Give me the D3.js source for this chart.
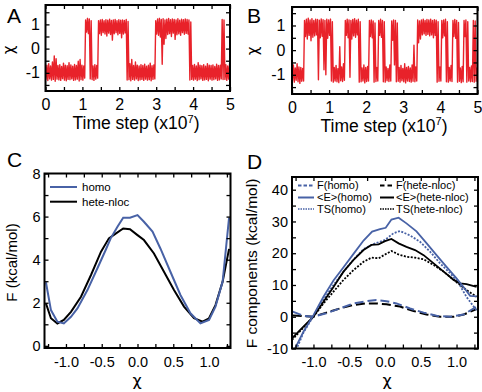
<!DOCTYPE html>
<html>
<head>
<meta charset="utf-8">
<title>Chi trajectories and free energy profiles</title>
<script src="https://d3js.org/d3.v7.min.js"></script>
<style>
  body { margin: 0; background: #fff; }
</style>
</head>
<body>
<svg id="fig" width="482" height="392"></svg>
<script>
// ---------------- data ----------------
// trajectories: each bin is 0.05 (x10^7 steps) and keeps the min and max of chi seen in it
var binWidth = 0.05
var trajA_lo = [-1.28,-1.32,-1.25,-1.30,-1.27,-1.35,-1.26,-1.29,-1.31,-1.24,-1.30,-1.33,-1.27,-1.28,-1.25,-1.31,-1.29,-1.26,-1.34,-1.28,-1.30,
  -1.22, 0.68, 0.62, -1.25, -1.28,-1.31,-1.26, -1.22,
  0.62,0.55,0.66,0.60,0.52,0.64,0.58,0.35,0.61,0.66,0.57,0.63,0.45,0.60,0.65,
  -1.30,
  -1.28,-1.33,-1.27,-1.30,-1.25,-1.32,-1.29,-1.27,-1.31,-1.26,-1.30,-1.28,-1.33,-1.27,
  -1.25,
  0.60,0.55,0.48,-0.65,0.18,0.42,0.58,0.62,0.50,0.64,0.38,0.57,0.61,0.55,0.66,0.59,0.63,0.60,
  -1.30,
  -1.27,-1.30,-1.26,-1.32,-1.28,-1.25,-1.31,-1.29,-1.27,-1.33,-1.26,-1.30,-1.28,-1.25,-1.31,-1.29,
  -1.25,-1.28, -1.27,-1.31,-1.26]
var trajA_hi = [-0.68,-0.62,-0.72,-0.55,-0.30,-0.42,-0.70,-0.66,-0.74,-0.60,-0.69,-0.71,-0.58,-0.67,-0.73,-0.65,-0.70,-0.52,-0.45,-0.68,-0.72,
  1.18, 1.25, 1.22, 1.15, -0.72,-0.66,-0.70, 1.15,
  1.18,1.20,1.15,1.19,1.17,1.21,1.16,1.18,1.20,1.15,1.19,1.17,1.18,1.16,1.20,
  1.12,
  -0.62,-0.45,-0.70,-0.55,-0.68,-0.72,-0.66,-0.70,-0.64,-0.73,-0.69,-0.60,-0.71,-0.67,
  1.15,
  1.22,1.25,1.20,1.23,1.18,1.21,1.24,1.19,1.22,1.20,1.18,1.23,1.17,1.21,1.19,1.22,1.20,1.18,
  1.10,
  -0.70,-0.65,-0.72,-0.58,-0.68,-0.71,-0.66,-0.73,-0.62,-0.69,-0.70,-0.67,-0.74,-0.64,-0.70,-0.68,
  1.20,1.18, -0.66,-0.72,-0.62]

var trajB_lo = [-1.25,-1.30,-1.22,-1.28,-1.35,-1.26, -1.25,
  0.55,0.45,0.60,0.38,0.52,0.58,0.62,-1.20,0.50,0.56,-0.80,-1.00,0.48,0.60,
  -1.25, -1.30,-1.25,-1.28,-1.32,-1.24,-1.27, -1.22, 0.60,0.50, -1.10, 0.45,0.58,0.52,0.62, -1.30,
  -1.28,-1.25,-1.33,-1.27, -1.25, 0.55,0.50, -1.30, -1.27, -1.25, 0.60,0.52, -1.28,
  -1.30,-1.24,-1.27, -1.25, 0.40,-0.60, -1.28,
  -1.26,-1.30,-1.24,-1.28,-1.33,-1.25,-1.27,-1.30,-1.26,-1.28, -1.25,
  0.30,0.45,0.62,0.66,0.60,0.64,0.58,0.62,0.50,0.60, -1.30,
  -1.26, -1.25, 0.50,0.58, -1.28, -1.30,-1.25, -1.27, 0.55,0.48, -1.30,
  -1.26,-1.32, -1.28, 0.55, -1.30, -1.25,-1.28, -1.27, -1.30, -1.26]
var trajB_hi = [-0.60,-0.72,-0.55,-0.68,-0.70,-0.74, 1.20,
  1.25,1.30,1.22,1.28,1.20,1.26,1.24,1.21,1.27,1.23,1.20,1.25,1.22,1.26,
  1.15, -0.70,-0.62,-0.75,0.14,-0.68,-0.55, 1.20, 1.25,1.22, 1.20, 1.24,1.28,1.21,1.25, 1.15,
  -0.72,-0.60,-0.70,-0.66, 1.20, 1.22,1.18, 1.10, -0.70, 1.20, 1.25,1.20, 1.15,
  -0.68,-0.74,-0.60, 1.18, 1.22,1.20, 1.10,
  -0.70,-0.62,-0.74,-0.55,-0.70,-0.66,-0.72,-0.60,0.20,-0.68, 1.22,
  1.18,1.22,1.25,1.20,1.24,1.22,1.26,1.20,1.23,1.21, 1.15,
  -0.68, 1.20, 1.22,1.25, 1.15, -0.70,-0.62, 1.20, 1.24,1.20, 1.12,
  -0.72,-0.66, 1.20, 1.22, 1.15, -0.70,-0.64, 1.20, 1.18, -0.70]

// panel C: free energy profiles (kcal/mol)
var chiC_homo = [-1.28,-1.21,-1.12,-1.03,-0.93,-0.84,-0.70,-0.56,-0.445,-0.375,-0.28,-0.20,-0.105,0.0,0.09,0.21,0.32,0.46,0.60,0.74,0.88,1.0,1.09,1.19,1.28]
var F_homo     = [2.95,1.66,1.12,1.04,1.35,1.74,2.59,3.60,4.45,4.99,5.53,5.95,5.95,6.07,5.76,5.30,4.52,3.44,2.36,1.51,1.04,1.20,1.82,2.98,5.95]
var chiC_hete = [-1.28,-1.21,-1.12,-1.03,-0.93,-0.79,-0.65,-0.51,-0.40,-0.30,-0.20,-0.105,0.0,0.09,0.23,0.37,0.51,0.65,0.79,0.91,1.0,1.09,1.19,1.28]
var F_hete     = [1.97,1.28,1.04,1.20,1.58,2.28,3.29,4.37,4.99,5.22,5.45,5.41,5.14,4.91,4.29,3.44,2.59,1.82,1.28,1.12,1.28,1.89,2.98,4.50]

// panel D: free energy components (kcal/mol)
var chiD_Fhomo = [-1.29,-1.14,-1.0,-0.82,-0.63,-0.44,-0.26,-0.12,0.02,0.16,0.35,0.54,0.72,0.91,1.10,1.28]
var Fc_homo    = [1.6,0.3,0.0,1.1,2.6,4.2,4.9,5.3,4.9,4.2,2.6,1.3,0.3,0.0,0.7,3.2]
var chiD_Fhete = [-1.29,-1.0,-0.82,-0.63,-0.44,-0.26,-0.12,0.02,0.21,0.40,0.58,0.77,0.96,1.10,1.28]
var Fc_hete    = [0.4,0.0,1.3,2.6,3.7,4.2,4.2,3.9,3.2,1.8,0.7,0.0,0.0,0.7,2.4]
var chiD_Ehomo = [-1.28,-1.14,-1.0,-0.86,-0.72,-0.58,-0.44,-0.30,-0.18,-0.07,0.01,0.09,0.19,0.30,0.44,0.58,0.72,0.86,1.0,1.10,1.19,1.28]
var E_homo     = [-11,-4.7,0.5,6.3,11.4,15.6,19.8,24.0,26.8,27.6,28.0,30.6,31.2,29.4,26.9,23.2,19.4,15.7,12.1,9.3,6.6,6.4]
var chiD_TShomo = [-1.28,-1.14,-1.0,-0.86,-0.72,-0.58,-0.44,-0.30,-0.16,0.0,0.12,0.21,0.35,0.49,0.63,0.77,0.91,1.03,1.14,1.28]
var TS_homo     = [-12.5,-5.0,0.2,5.3,10.0,14.2,18.0,21.3,22.9,24.2,26.3,27.0,25.6,23.6,20.5,16.8,13.7,10.6,6.2,2.0]
var chiD_Ehete = [-1.30,-1.14,-1.0,-0.86,-0.72,-0.58,-0.44,-0.30,-0.19,-0.09,0.0,0.09,0.19,0.30,0.42,0.54,0.68,0.82,0.96,1.05,1.14,1.28]
var E_hete     = [-6.8,-3.1,0.0,4.7,9.4,14.2,17.9,21.0,22.6,22.8,23.8,24.5,23.1,22.0,21.0,19.4,16.8,14.2,11.6,10.5,10.3,9.4]
var TS_hete    = [-7.3,-3.4,0.0,4.2,7.9,11.6,14.7,17.3,18.6,18.4,19.6,20.7,19.6,18.9,18.6,18.1,16.3,14.2,11.6,10.0,8.4,6.3]

// ticks and labels
var ticksAB_x = [0,0.5,1,1.5,2,2.5,3,3.5,4,4.5,5]
var labelsAB_x = [0,1,2,3,4,5]
var ticksAB_y = [-1.5,-1,-0.5,0,0.5,1,1.5]
var labelsAB_y = [-1,0,1]
var ticksCD_x = [-1.25,-1,-0.75,-0.5,-0.25,0,0.25,0.5,0.75,1,1.25]
var labelsCD_x = [-1,-0.5,0,0.5,1]
var ticksC_y = [0,1,2,3,4,5,6,7,8]
var labelsC_y = [0,2,4,6,8]
var ticksD_y = [-10,-5,0,5,10,15,20,25,30,35,40]
var labelsD_y = [-10,0,10,20,30,40]

var legendC = ["homo", "hete-nloc"]
var legendD = [["F(homo)", "F(hete-nloc)"], ["<E>(homo)", "<E>(hete-nloc)"], ["TS(homo)", "TS(hete-nloc)"]]
var panelLetters = ["A", "B", "C", "D"]

// ---------------- drawing ----------------
var FONT = "'Liberation Sans', Arial, Helvetica, sans-serif"
var CHI_FONT = "'DejaVu Sans', sans-serif"
var RED = "#e8222a"
var BLUE = "#4862a6"
var BLACK = "#000"
var svg = d3.select("#fig")

function frame(g, x, y, o) {
  var x0 = x.range()[0], x1 = x.range()[1], yT = y.range()[1], yB = y.range()[0]
  function fx(d) { return o.xLab.indexOf(d) >= 0 ? o.xFmt(d) : "" }
  function fy(d) { return o.yLab.indexOf(d) >= 0 ? o.yFmt(d) : "" }
  g.append("g").attr("transform", "translate(0," + yB + ")")
    .call(d3.axisBottom(x).tickValues(o.xTicks).tickFormat(fx).tickSize(-4).tickPadding(o.xPad))
  g.append("g").attr("transform", "translate(0," + yT + ")")
    .call(d3.axisTop(x).tickValues(o.xTicks).tickFormat("").tickSize(-4))
  g.append("g").attr("transform", "translate(" + x0 + ",0)")
    .call(d3.axisLeft(y).tickValues(o.yTicks).tickFormat(fy).tickSize(-4).tickPadding(o.yPad))
  g.append("g").attr("transform", "translate(" + x1 + ",0)")
    .call(d3.axisRight(y).tickValues(o.yTicks).tickFormat("").tickSize(-4))
  g.selectAll(".domain").remove()
  g.selectAll(".tick line").attr("stroke", "#000").attr("stroke-width", 1.3)
  g.selectAll(".tick text").attr("fill", "#000").attr("font-family", FONT).attr("font-size", o.fs)
  g.append("rect").attr("x", x0).attr("y", yT).attr("width", x1 - x0).attr("height", yB - yT)
    .attr("fill", "none").attr("stroke", "#000").attr("stroke-width", 2)
}

function clip(id, x, y) {
  svg.append("clipPath").attr("id", id).append("rect")
    .attr("x", x.range()[0]).attr("y", y.range()[1])
    .attr("width", x.range()[1] - x.range()[0]).attr("height", y.range()[0] - y.range()[1])
  return "url(#" + id + ")"
}

function label(txt, x, y, fs, rot, font) {
  var t = svg.append("text").attr("font-family", font || FONT).attr("font-size", fs)
    .attr("text-anchor", "middle").attr("fill", "#000").text(txt)
  if (rot) t.attr("transform", "translate(" + x + "," + y + ") rotate(-90)")
  else t.attr("x", x).attr("y", y)
  return t
}

function timeLabel(x, y) {
  var t = svg.append("text").attr("font-family", FONT).attr("font-size", 17.5)
    .attr("text-anchor", "middle").attr("x", x).attr("y", y)
  t.append("tspan").text("Time step (x10")
  t.append("tspan").attr("font-size", 11).attr("dy", -6.5).text("7")
  t.append("tspan").attr("dy", 6.5).text(")")
}

function traceLine(lo, hi) {
  var pts = []
  lo.forEach(function (v, i) {
    pts.push([binWidth * (i + 0.25), v])
    pts.push([binWidth * (i + 0.75), hi[i]])
  })
  return pts
}

// ---- panels A and B ----
function trajPanel(id, xr, yd, yr, lo, hi, xPad, yPad) {
  var x = d3.scaleLinear().domain([0, 5]).range(xr)
  var y = d3.scaleLinear().domain(yd).range(yr)
  var g = svg.append("g")
  g.append("path").datum(traceLine(lo, hi))
    .attr("clip-path", clip(id, x, y))
    .attr("fill", "none").attr("stroke", RED).attr("stroke-width", 1.4).attr("stroke-linejoin", "round")
    .attr("d", d3.line().x(function (d) { return x(d[0]) }).y(function (d) { return y(d[1]) }))
  frame(g, x, y, { xTicks: ticksAB_x, xLab: labelsAB_x, xFmt: String, yTicks: ticksAB_y, yLab: labelsAB_y,
    yFmt: String, xPad: xPad, yPad: yPad, fs: 16 })
}
trajPanel("clipA", [45.5, 230], [-1.75, 1.8], [91, 5], trajA_lo, trajA_hi, 8, 5.5)
trajPanel("clipB", [292, 477.5], [-1.78, 1.75], [94, 7], trajB_lo, trajB_hi, 7.5, 6.5)

label("\u03c7", 14, 50, 15, true, CHI_FONT)
label("\u03c7", 258, 51, 15, true, CHI_FONT)
timeLabel(136, 129)
timeLabel(384, 131.5)

// ---- panel C ----
var xC = d3.scaleLinear().domain([-1.3, 1.3]).range([44.5, 230.5])
var yC = d3.scaleLinear().domain([-0.1, 8]).range([348, 173.5])
var gC = svg.append("g")
var lineC = d3.line().x(function (d) { return xC(d[0]) }).y(function (d) { return yC(d[1]) })
var cClip = clip("clipC", xC, yC)
gC.append("path").datum(d3.zip(chiC_hete, F_hete)).attr("clip-path", cClip)
  .attr("fill", "none").attr("stroke", BLACK).attr("stroke-width", 2).attr("d", lineC)
gC.append("path").datum(d3.zip(chiC_homo, F_homo)).attr("clip-path", cClip)
  .attr("fill", "none").attr("stroke", BLUE).attr("stroke-width", 2).attr("d", lineC)
frame(gC, xC, yC, { xTicks: ticksCD_x, xLab: labelsCD_x, xFmt: function (d) { return d.toFixed(1) },
  yTicks: ticksC_y, yLab: labelsC_y, yFmt: String, xPad: 8.5, yPad: 4, fs: 14.5 })

legendC.forEach(function (name, i) {
  var yy = 187 + i * 14.7
  gC.append("line").attr("x1", 50).attr("x2", 77).attr("y1", yy).attr("y2", yy)
    .attr("stroke", i === 0 ? BLUE : BLACK).attr("stroke-width", 2)
  gC.append("text").attr("x", 82).attr("y", yy).attr("dy", "0.35em").attr("font-family", FONT)
    .attr("font-size", 11.5).text(name)
})
label("F (kcal/mol)", 17, 262.5, 15, true)
label("\u03c7", 137, 386, 16, false, CHI_FONT)

// ---- panel D ----
var xD = d3.scaleLinear().domain([-1.3, 1.3]).range([292, 478])
var yD = d3.scaleLinear().domain([-10, 44]).range([348.5, 177])
var gD = svg.append("g")
var lineD = d3.line().x(function (d) { return xD(d[0]) }).y(function (d) { return yD(d[1]) })
var dClip = clip("clipD", xD, yD)
var seriesD = [
  { xs: chiD_Fhete, ys: Fc_hete, c: BLACK, dash: "9,4", w: 2 },
  { xs: chiD_Fhomo, ys: Fc_homo, c: BLUE, dash: "9,4", w: 2 },
  { xs: chiD_Ehete, ys: TS_hete, c: BLACK, dash: "2,1.5", w: 1.8 },
  { xs: chiD_TShomo, ys: TS_homo, c: BLUE, dash: "2,1.5", w: 1.8 },
  { xs: chiD_Ehete, ys: E_hete, c: BLACK, dash: null, w: 1.8 },
  { xs: chiD_Ehomo, ys: E_homo, c: BLUE, dash: null, w: 1.8 }
]
seriesD.forEach(function (s) {
  gD.append("path").datum(d3.zip(s.xs, s.ys)).attr("clip-path", dClip)
    .attr("fill", "none").attr("stroke", s.c).attr("stroke-width", s.w)
    .attr("stroke-dasharray", s.dash).attr("d", lineD)
})
frame(gD, xD, yD, { xTicks: ticksCD_x, xLab: labelsCD_x, xFmt: function (d) { return d.toFixed(1) },
  yTicks: ticksD_y, yLab: labelsD_y, yFmt: String, xPad: 8, yPad: 4, fs: 14.5 })

var legDash = [["3.5,2", "4.5,3"], [null, null], ["1.5,1", "1.5,1"]]
var legRowY = [185.5, 197.5, 209]
var legCol = [{ x1: 298, x2: 314, tx: 317 }, { x1: 380, x2: 394, tx: 396 }]
legendD.forEach(function (row, r) {
  row.forEach(function (name, c) {
    var col = legCol[c]
    gD.append("line").attr("x1", col.x1).attr("x2", col.x2).attr("y1", legRowY[r]).attr("y2", legRowY[r])
      .attr("stroke", c === 0 ? BLUE : BLACK).attr("stroke-width", r === 2 ? 1.6 : 2)
      .attr("stroke-dasharray", legDash[r][c])
    gD.append("text").attr("x", col.tx).attr("y", legRowY[r]).attr("dy", "0.35em")
      .attr("font-family", FONT).attr("font-size", 11).text(name)
  })
})
label("F components (kcal/mol)", 257, 263.5, 15.5, true)
label("\u03c7", 387, 386, 16, false, CHI_FONT)

// panel letters
var letterPos = [[7, 23], [247, 23], [7, 167], [247, 169]]
panelLetters.forEach(function (l, i) {
  svg.append("text").attr("x", letterPos[i][0]).attr("y", letterPos[i][1]).attr("font-family", FONT)
    .attr("font-size", 21).text(l)
})
</script>
</body>
</html>
